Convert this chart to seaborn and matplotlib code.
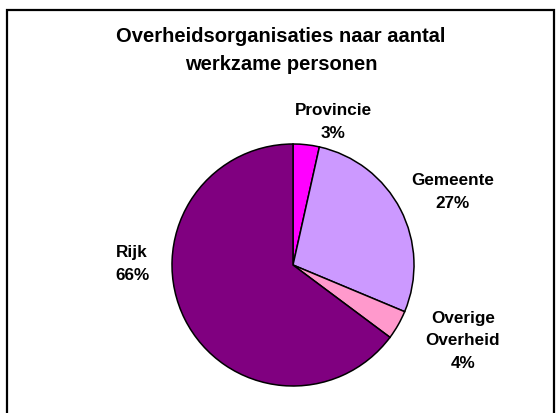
import matplotlib
matplotlib.use("Agg")
import matplotlib.pyplot as plt
import seaborn as sns
from matplotlib.patches import Rectangle

# data
categories = ["Provincie", "Gemeente", "Overige\nOverheid", "Rijk"]
shares = [3.5, 27.8, 3.9, 64.8]
pct_labels = ["3%", "27%", "4%", "66%"]
colors = ["#FF00FF", "#CC99FF", "#FF99CC", "#800080"]
title = "Overheidsorganisaties naar aantal\nwerkzame personen"

# label block centres in pixels (x, y from top)
label_pos = [(333, 122), (453, 192), (463, 341), (132, 264)]

W, H = 558, 414
sns.set_theme(style="white")
plt.rcParams["font.family"] = ["Liberation Sans", "DejaVu Sans"]
plt.rcParams["text.color"] = "black"

fig = plt.figure(figsize=(W / 100, H / 100), dpi=100)

# pie: centre (293, 266), radius 121 px
cx, cy, r = 293, 266, 121
ax = fig.add_axes([(cx - r) / W, (H - cy - r) / H, 2 * r / W, 2 * r / H])
ax.pie(shares, colors=colors, startangle=90, counterclock=False,
       wedgeprops=dict(edgecolor="black", linewidth=1.1))
ax.set_xlim(-1, 1)
ax.set_ylim(-1, 1)
ax.set_aspect("auto")
ax.axis("off")

# outer frame
fig.patches.append(Rectangle((6.5 / W, -0.1), (553.5 - 6.5) / W, (H - 11 + 0.1 * H) / H,
                             transform=fig.transFigure, fill=False,
                             edgecolor="black", linewidth=1.6))

fig.text(281 / W, 1 - 50 / H, title, ha="center", va="center", ma="center",
         fontsize=14.5, fontweight="bold", linespacing=1.6, color="black")

for cat, pct, (x, y) in zip(categories, pct_labels, label_pos):
    fig.text(x / W, 1 - y / H, f"{cat}\n{pct}", ha="center", va="center", ma="center",
             fontsize=12.3, fontweight="bold", linespacing=1.6, color="black")

fig.savefig("out.png", dpi=100)
